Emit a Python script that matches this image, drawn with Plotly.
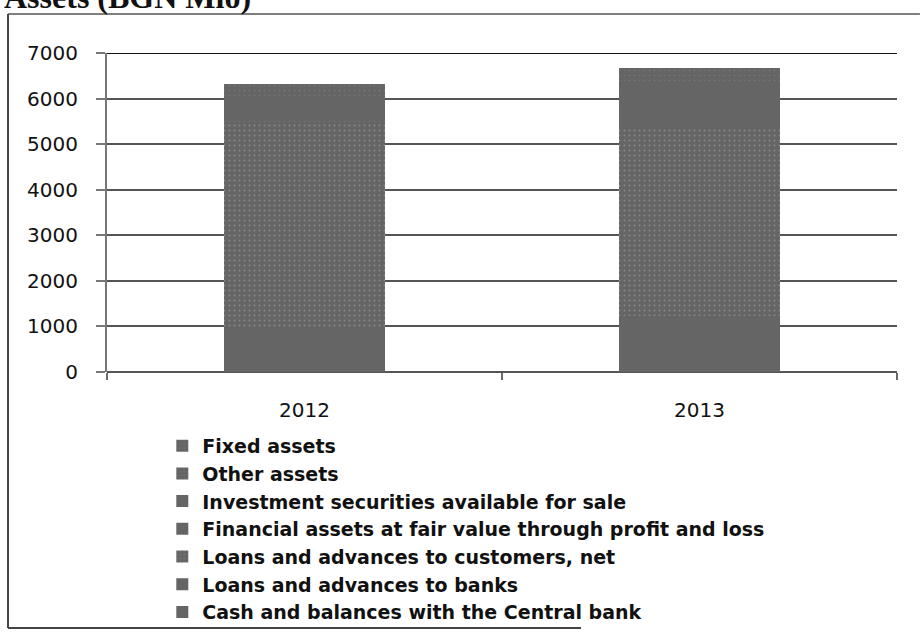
import plotly.graph_objects as go

# Balance sheet structure, BGN million
years = ["2012", "2013"]
cash_central_bank = [350, 330]
loans_to_banks = [610, 890]
loans_to_customers = [4540, 4150]
fvtpl_assets = [50, 40]
afs_securities = [500, 960]
other_assets = [130, 140]
fixed_assets = [150, 150]

y_ticks = [0, 1000, 2000, 3000, 4000, 5000, 6000, 7000]

dotted = dict(shape=".", fillmode="overlay", fgcolor="#a9a9a9", size=5, solidity=0.12)
faint_dots = dict(shape=".", fillmode="overlay", fgcolor="#8a8a8a", size=5, solidity=0.08)

series = [
    ("Cash and balances with the Central bank", cash_central_bank, None),
    ("Loans and advances to banks", loans_to_banks, None),
    ("Loans and advances to customers, net", loans_to_customers, dotted),
    ("Financial assets at fair value through profit and loss", fvtpl_assets, None),
    ("Investment securities available for sale", afs_securities, None),
    ("Other assets", other_assets, faint_dots),
    ("Fixed assets", fixed_assets, faint_dots),
]

fig = go.Figure()
for name, vals, pattern in series:
    marker = dict(color="#656565", line=dict(width=0))
    if pattern:
        marker["pattern"] = pattern
    fig.add_trace(go.Bar(name=name, x=years, y=vals, marker=marker))

font_family = "'DejaVu Sans', sans-serif"

fig.update_layout(
    width=923,
    height=634,
    barmode="stack",
    bargap=0.59,
    paper_bgcolor="white",
    plot_bgcolor="white",
    margin=dict(l=107, r=26, t=53, b=262, autoexpand=False),
    font=dict(family=font_family, size=20, color="#111111"),
    showlegend=True,
    legend=dict(
        traceorder="reversed",
        orientation="v",
        x=0.07,
        y=-0.172,
        xanchor="left",
        yanchor="top",
        font=dict(family=font_family, size=19, color="#111111", weight="bold"),
        itemsizing="constant",
        tracegroupgap=0,
        bgcolor="rgba(0,0,0,0)",
    ),
    xaxis=dict(
        type="category",
        showgrid=False,
        ticks="outside",
        tickson="boundaries",
        ticklen=7,
        tickcolor="#6a6a6a",
        tickwidth=2,
        showline=False,
        tickfont=dict(size=20),
        ticklabelstandoff=24,
    ),
    yaxis=dict(
        range=[0, 7000],
        tickvals=y_ticks,
        showgrid=True,
        gridcolor="#555555",
        gridwidth=1.5,
        zeroline=True,
        zerolinecolor="#555555",
        zerolinewidth=1.5,
        showline=True,
        linecolor="#777777",
        linewidth=2,
        ticks="outside",
        ticklen=9,
        tickcolor="#777777",
        tickwidth=2,
        tickfont=dict(size=20),
        ticklabelstandoff=14,
    ),
    annotations=[
        dict(
            text="<b>Assets (BGN Mio)</b>",
            xref="paper", yref="paper",
            x=-0.133, y=1.112,
            xanchor="left", yanchor="bottom",
            showarrow=False,
            font=dict(family="'Liberation Serif', 'DejaVu Serif', serif", size=32, color="#111111"),
        )
    ],
    shapes=[
        # frame around the chart
        dict(type="line", xref="paper", yref="paper", x0=-0.1253, x1=-0.1253, y0=1.1223, y1=-0.8025,
             line=dict(color="#444444", width=2)),
        dict(type="line", xref="paper", yref="paper", x0=-0.1253, x1=1.029, y0=1.1223, y1=1.1223,
             line=dict(color="#555555", width=1.5)),
        dict(type="line", xref="paper", yref="paper", x0=-0.1253, x1=0.6, y0=-0.8025, y1=-0.8025,
             line=dict(color="#444444", width=2)),
        # emphasised top gridline
        dict(type="line", xref="paper", yref="y", x0=0, x1=1, y0=7000, y1=7000,
             line=dict(color="#111111", width=2)),
    ],
)

fig.write_html("out.html")
